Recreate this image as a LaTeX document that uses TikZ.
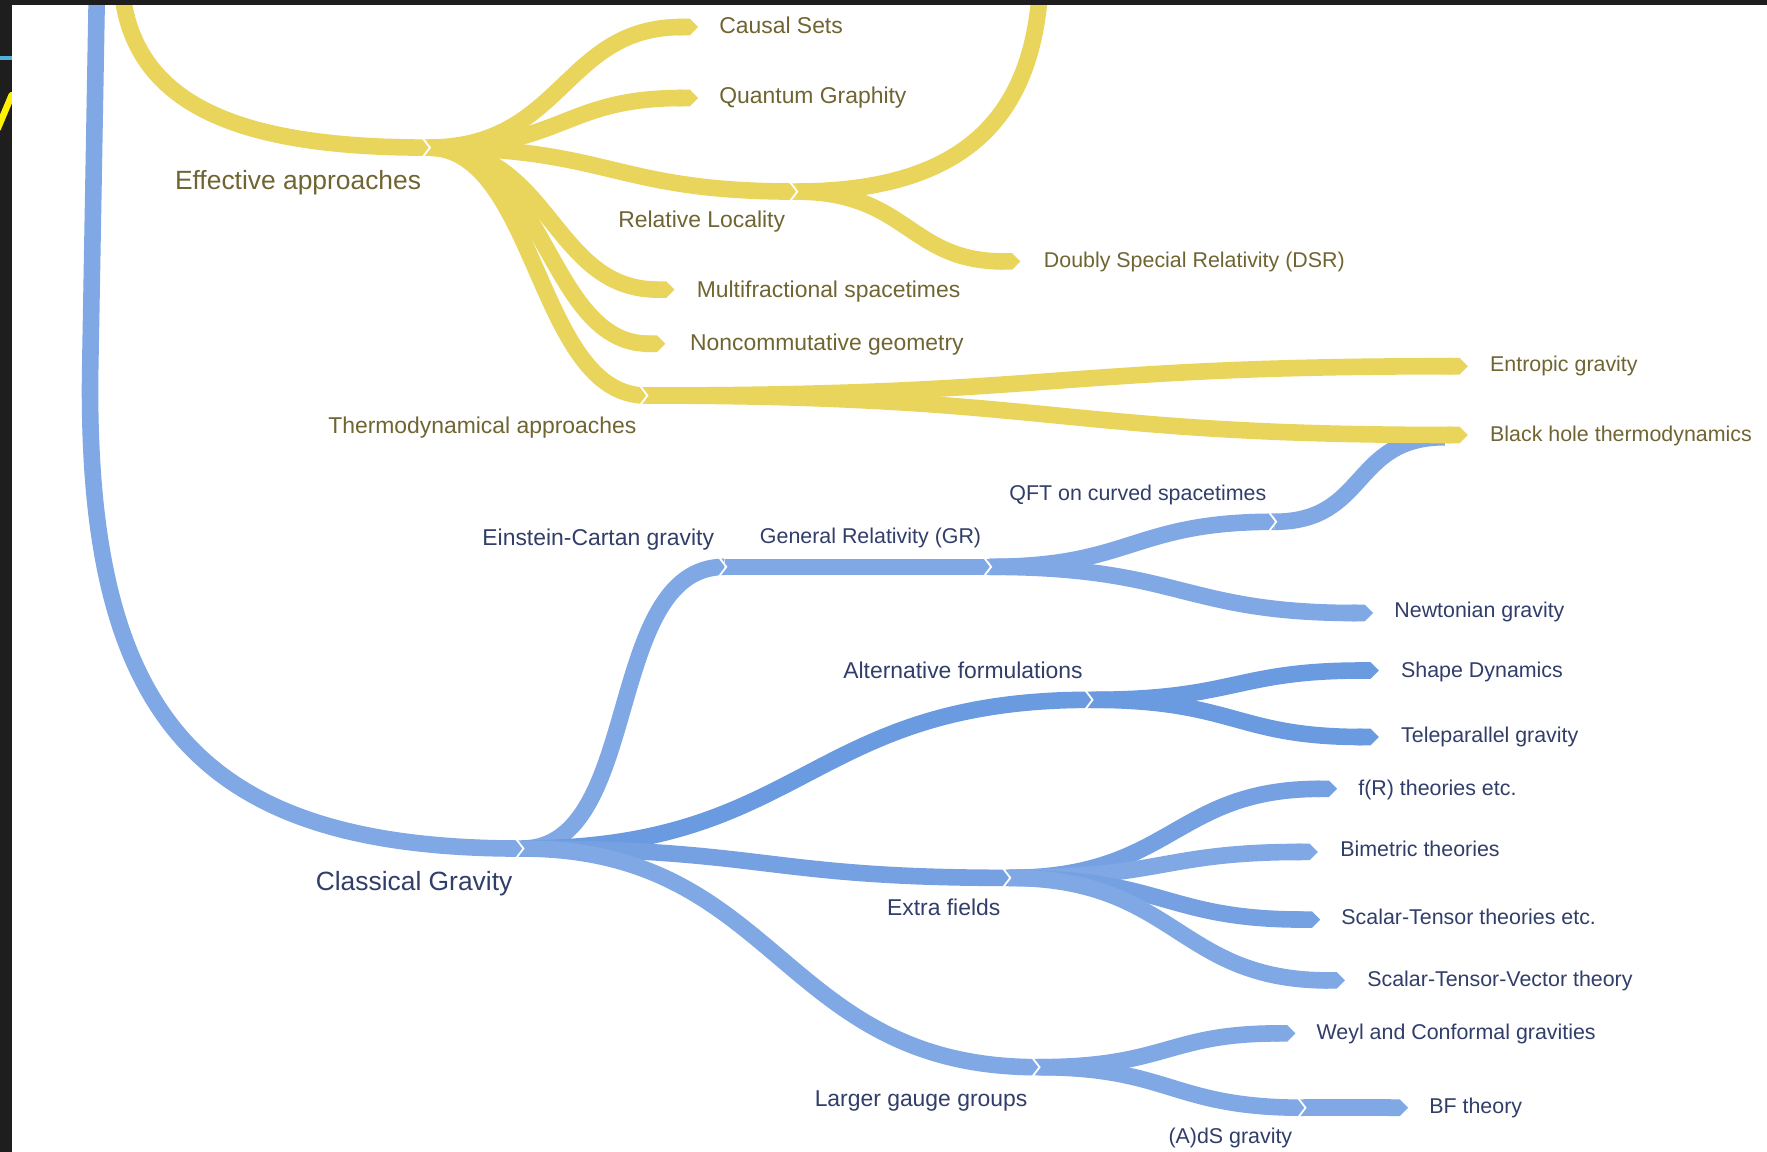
\documentclass[tikz,border=0pt]{standalone}
\usepackage{fontspec}
\setmainfont{Liberation Sans}
\usetikzlibrary{arrows.meta,calc}
\definecolor{yb}{RGB}{234,213,92}
\definecolor{bb}{RGB}{127,168,229}
\definecolor{bm}{RGB}{117,161,226}
\definecolor{bd}{RGB}{106,154,224}
\definecolor{yt}{RGB}{112,101,50}
\definecolor{bt}{RGB}{50,62,106}
\definecolor{framec}{RGB}{30,30,30}
\definecolor{cyanl}{RGB}{80,178,216}
\newcommand\mychev[1]{\draw[chev] ([shift={(-5,-8.5)}]#1) -- ([shift={(1.5,0)}]#1) -- ([shift={(-5,8.5)}]#1);}
\begin{document}
\begin{tikzpicture}[x=0.5635pt,y=-0.5635pt,
  band/.style={line width=8.3pt, line cap=butt},
  ybd/.style={band, draw=yb},
  bbd/.style={band, draw=bb},
  bmd/.style={band, draw=bm},
  bdd/.style={band, draw=bd},
  leaf/.style={-{Triangle Cap}},
  sc/.style={to path={let \p1=(\tikztostart), \p2=(\tikztotarget) in
     .. controls ({\x1+#1*(\x2-\x1)},\y1) and ({\x2-#1*(\x2-\x1)},\y2) .. (\tikztotarget) \tikztonodes}},
  sc/.default=0.5,
  chev/.style={draw=white, line width=0.9pt, line join=miter},
  ylabA/.style={text=yt, inner sep=0pt, font=\fontsize{11.45}{13}\selectfont},
  ylabB/.style={text=yt, inner sep=0pt, font=\fontsize{10.7}{13}\selectfont},
  blabA/.style={text=bt, inner sep=0pt, font=\fontsize{11.45}{13}\selectfont},
  blabB/.style={text=bt, inner sep=0pt, font=\fontsize{10.7}{13}\selectfont},
  ybig/.style={text=yt, inner sep=0pt, font=\fontsize{13.2}{15}\selectfont},
  bbig/.style={text=bt, inner sep=0pt, font=\fontsize{13.2}{15}\selectfont}]
\useasboundingbox (0,0) rectangle (1568,1022);
\fill[white] (0,0) rectangle (1568,1022);
% coordinates
\coordinate (ytop) at (108,-10);
\coordinate (btop) at (86,-10);
\coordinate (btopb) at (80,330);
\coordinate (rtop) at (923,-10);
\coordinate (E) at (380,131);
\coordinate (RL) at (706,170);
\coordinate (TA) at (573,351);
\coordinate (CG) at (463,753);
\coordinate (EC) at (643,503);
\coordinate (GR) at (878,503);
\coordinate (QFT) at (1131,463);
\coordinate (AF) at (968,621);
\coordinate (EF) at (895,779);
\coordinate (LG) at (921,947);
\coordinate (AdS) at (1157,983);
\coordinate (cs) at (619.5,24);
\coordinate (qg) at (619.5,87);
\coordinate (dsr) at (905.5,232);
\coordinate (mf) at (598.5,257);
\coordinate (nc) at (590.5,305);
\coordinate (eg) at (1302.5,325);
\coordinate (bht) at (1302.5,386);
\coordinate (qb) at (1282,388);
\coordinate (ng) at (1218.5,544);
\coordinate (sd) at (1223.5,595);
\coordinate (tp) at (1223.5,654);
\coordinate (fr) at (1186.5,700);
\coordinate (bi) at (1169.5,756);
\coordinate (st) at (1171.5,816);
\coordinate (stv) at (1193.5,870);
\coordinate (wc) at (1149.5,917);
\coordinate (bf) at (1249.5,983);
% blue bands
\draw[bbd] (btop) -- (btopb) .. controls (76,640) and (180,753) .. (CG);
\draw[bbd] (CG) to[sc=0.6] (EC);
\draw[bdd] (CG) to[sc] (AF);
\draw[bmd] (CG) to[sc] (EF);
\draw[bbd] (CG) to[sc] (LG);
\draw[bbd] (EC) -- (GR);
\draw[bbd] (GR) to[sc] (QFT);
\draw[bbd,leaf] (GR) to[sc] (ng);
\draw[bbd] (QFT) to[sc=0.55] (qb);
\draw[bdd,leaf] (AF) to[sc] (sd);
\draw[bdd,leaf] (AF) to[sc] (tp);
\draw[bmd,leaf] (EF) to[sc] (fr);
\draw[bbd,leaf] (EF) to[sc] (bi);
\draw[bmd,leaf] (EF) to[sc] (st);
\draw[bbd,leaf] (EF) to[sc] (stv);
\draw[bbd,leaf] (LG) to[sc] (wc);
\draw[bbd] (LG) to[sc] (AdS);
\draw[bbd,leaf] (AdS) -- (bf);
% yellow bands
\draw[ybd] (ytop) .. controls (118,95) and (215,131) .. (E);
\draw[ybd] (RL) .. controls (860,170) and (916,100) .. (rtop);
\draw[ybd,leaf] (E) to[sc] (cs);
\draw[ybd,leaf] (E) to[sc] (qg);
\draw[ybd] (E) to[sc] (RL);
\draw[ybd,leaf] (E) to[sc] (mf);
\draw[ybd,leaf] (E) to[sc] (nc);
\draw[ybd] (E) to[sc] (TA);
\draw[ybd,leaf] (RL) to[sc] (dsr);
\draw[ybd,leaf] (TA) to[sc] (eg);
\draw[ybd,leaf] (TA) to[sc] (bht);
% junction notches
\mychev{E}\mychev{RL}\mychev{TA}\mychev{CG}\mychev{EC}\mychev{GR}
\mychev{QFT}\mychev{AF}\mychev{EF}\mychev{LG}\mychev{AdS}
% leaf labels
\node[ylabA, anchor=base west] (tcs) at (638,30) {Causal Sets};
\node[ylabA, anchor=base west] (tqg) at (638,92) {Quantum Graphity};
\node[ylabB, anchor=base west] (tdsr) at (926,237) {Doubly Special Relativity (DSR)};
\node[ylabA, anchor=base west] (tmf) at (618,264) {Multifractional spacetimes};
\node[ylabA, anchor=base west] (tnc) at (612,311) {Noncommutative geometry};
\node[ylabB, anchor=base west] (teg) at (1322,330) {Entropic gravity};
\node[ylabB, anchor=base west] (tbht) at (1322,392) {Black hole thermodynamics};
\node[blabB, anchor=base west] (tng) at (1237,548) {Newtonian gravity};
\node[blabB, anchor=base west] (tsd) at (1243,601) {Shape Dynamics};
\node[blabB, anchor=base west] (ttp) at (1243,659) {Teleparallel gravity};
\node[blabB, anchor=base west] (tfr) at (1205,706) {f(R) theories etc.};
\node[blabB, anchor=base west] (tbi) at (1189,760) {Bimetric theories};
\node[blabB, anchor=base west] (tst) at (1190,820) {Scalar-Tensor theories etc.};
\node[blabB, anchor=base west] (tstv) at (1213,875) {Scalar-Tensor-Vector theory};
\node[blabB, anchor=base west] (twc) at (1168,922) {Weyl and Conformal gravities};
\node[blabB, anchor=base west] (tbf) at (1268,988) {BF theory};
% internal labels
\node[ybig, anchor=base east] (tE) at (374,168) {Effective approaches};
\node[ylabA, anchor=base east] (tRL) at (697,202) {Relative Locality};
\node[ylabA, anchor=base east] (tTA) at (565,385) {Thermodynamical approaches};
\node[bbig, anchor=base east] (tCG) at (455,790) {Classical Gravity};
\node[blabA, anchor=base east] (tEC) at (634,484) {Einstein-Cartan gravity};
\node[blabB, anchor=base east] (tGR) at (871,482) {General Relativity (GR)};
\node[blabB, anchor=base east] (tQFT) at (1124,444) {QFT on curved spacetimes};
\node[blabA, anchor=base east] (tAF) at (961,602) {Alternative formulations};
\node[blabA, anchor=base east] (tEF) at (888,812) {Extra fields};
\node[blabA, anchor=base east] (tLG) at (912,982) {Larger gauge groups};
\node[blabB, anchor=base east] (tAdS) at (1147,1015) {(A)dS gravity};
% frame
\fill[framec] (0,0) rectangle (1568,4.4);
\fill[framec] (0,0) rectangle (10.6,1022);
\fill[cyanl] (0,49.5) rectangle (10.6,53.5);
\begin{scope}
\clip (0,0) rectangle (10.6,1022);
\draw[yellow, line width=3.3pt, line cap=round] (-2,114) -- (10.4,84.5);
\end{scope}
\end{tikzpicture}
\end{document}
